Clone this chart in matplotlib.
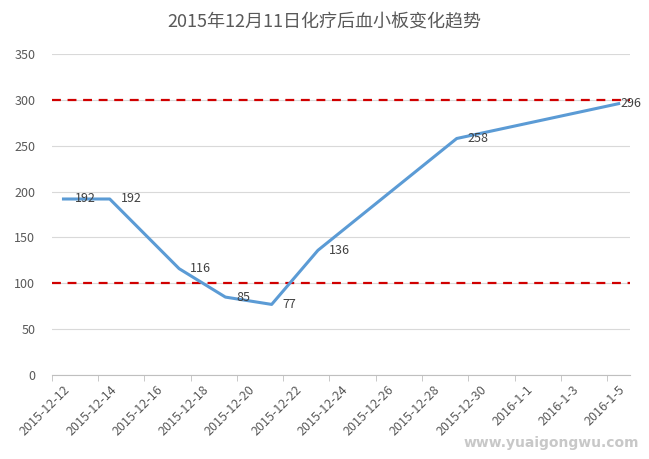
import pandas as pd
import matplotlib
matplotlib.use('Agg')
import matplotlib.pyplot as plt

plt.rcParams['font.family'] = ['Noto Sans CJK SC', 'DejaVu Sans']

# platelet counts after chemo
dates = ['2015-12-12', '2015-12-14', '2015-12-17', '2015-12-19',
         '2015-12-21', '2015-12-23', '2015-12-29', '2016-01-05']
counts = [192, 192, 116, 85, 77, 136, 258, 296]
ref_lines = [100, 300]  # normal range limits
tick_labels = ['2015-12-12', '2015-12-14', '2015-12-16', '2015-12-18', '2015-12-20',
               '2015-12-22', '2015-12-24', '2015-12-26', '2015-12-28', '2015-12-30',
               '2016-1-1', '2016-1-3', '2016-1-5']
title = '2015年12月11日化疗后血小板变化趋势'

start = pd.Timestamp('2015-12-12')
x = [(pd.Timestamp(d) - start).days for d in dates]
n_days = (pd.Timestamp('2016-01-05') - start).days

fig = plt.figure(figsize=(6.49, 4.59), dpi=100)
ax = fig.add_axes([0.080, 0.183, 0.891, 0.699])

grey = '#595959'
ax.set_ylim(0, 350)
ax.set_xlim(-0.5, n_days + 0.5)
ax.set_yticks(range(0, 351, 50))
ax.grid(axis='y', color='#D9D9D9', lw=0.8)
ax.set_axisbelow(True)

for r in ref_lines:
    ax.axhline(r, color='#D00000', lw=1.6, ls=(0, (4, 3)), zorder=3)

ax.plot(x, counts, color='#5B9BD5', lw=2.2, zorder=4)
for i, (xi, c) in enumerate(zip(x, counts)):
    dx = 1 if i == len(counts) - 1 else 8  # last label kept inside the chart
    ax.annotate(str(c), (xi, c), xytext=(dx, 0), textcoords='offset points',
                va='center', ha='left', fontsize=9, color='#404040', zorder=5)

ax.set_xticks(range(0, n_days + 1, 2))
ax.set_xticklabels(tick_labels, rotation=45, ha='right', rotation_mode='anchor',
                   fontsize=9, color=grey)
ax.set_xticks([i - 0.5 for i in range(0, n_days + 2, 2)], minor=True)
ax.tick_params(axis='x', which='major', length=0, pad=6)
ax.tick_params(axis='x', which='minor', length=4, color='#BFBFBF', direction='out')
ax.tick_params(axis='y', length=0, labelsize=9, labelcolor=grey, pad=12)

for s in ['top', 'right', 'left']:
    ax.spines[s].set_visible(False)
ax.spines['bottom'].set_color('#BFBFBF')

fig.text(0.5, 0.952, title, ha='center', va='center', fontsize=13, color=grey)
fig.text(0.985, 0.02, 'www.yuaigongwu.com', ha='right', va='bottom', fontsize=10,
         color='#C8C8C8', fontweight='bold', family='DejaVu Sans')

fig.savefig('out.png', dpi=100)
